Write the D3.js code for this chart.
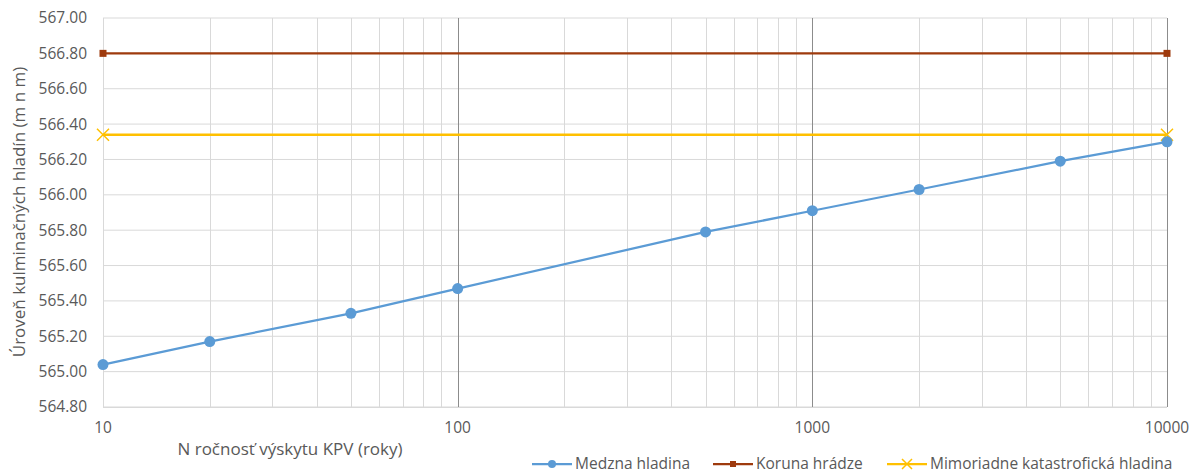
<!DOCTYPE html>
<html>
<head>
<meta charset="utf-8">
<script src="https://cdn.jsdelivr.net/npm/d3@7"></script>
<style>
  body { margin: 0; background: #fff; }
  text { font-family: "Open Sans", "Noto Sans", sans-serif; fill: #595959; }
</style>
</head>
<body>
<div id="chart"></div>
<script>
// return periods (years) and water levels (m n m)
const years = [10, 20, 50, 100, 500, 1000, 2000, 5000, 10000];
const medzna = [565.04, 565.17, 565.33, 565.47, 565.79, 565.91, 566.03, 566.19, 566.30];
const korunaYears = [10, 10000];
const koruna = [566.80, 566.80];
const mimoYears = [10, 10000];
const mimo = [566.34, 566.34];
const yTicks = [564.8, 565.0, 565.2, 565.4, 565.6, 565.8, 566.0, 566.2, 566.4, 566.6, 566.8, 567.0];
const xTicks = [10, 100, 1000, 10000];
const seriesNames = ['Medzna hladina', 'Koruna hrádze', 'Mimoriadne katastrofická hladina'];

const width = 1197, height = 475;
const margin = { left: 103, right: 30, top: 18, bottom: 68 };

const svg = d3.select('#chart').append('svg')
  .attr('width', width)
  .attr('height', height);

const x = d3.scaleLog()
  .domain([10, 10000])
  .range([margin.left, width - margin.right]);

const y = d3.scaleLinear()
  .domain([564.8, 567.0])
  .range([height - margin.bottom, margin.top]);

// horizontal grid
svg.append('g').attr('class', 'hgrid')
  .selectAll('line')
  .data(yTicks)
  .enter().append('line')
  .attr('x1', x(10)).attr('x2', x(10000))
  .attr('y1', d => y(d)).attr('y2', d => y(d))
  .attr('stroke', '#d9d9d9')
  .attr('stroke-width', 1);

// minor vertical grid (2..9 per decade)
let minor = [];
[10, 100, 1000].forEach(function(dec) {
  for (let k = 2; k <= 9; k++) minor.push(dec * k);
});
svg.append('g').attr('class', 'vminor')
  .selectAll('line')
  .data(minor)
  .enter().append('line')
  .attr('x1', d => Math.round(x(d)) + 0.5).attr('x2', d => Math.round(x(d)) + 0.5)
  .attr('y1', y(567)).attr('y2', y(564.8))
  .attr('stroke', '#d9d9d9');

// major vertical grid
svg.append('g').attr('class', 'vmajor')
  .selectAll('line')
  .data([100, 1000, 10000])
  .enter().append('line')
  .attr('x1', d => Math.round(x(d)) + 0.5).attr('x2', d => Math.round(x(d)) + 0.5)
  .attr('y1', y(567)).attr('y2', y(564.8))
  .attr('stroke', '#8c8c8c');

// left edge + bottom axis line
svg.append('line')
  .attr('x1', x(10) + 0.5).attr('x2', x(10) + 0.5)
  .attr('y1', y(567)).attr('y2', y(564.8))
  .attr('stroke', '#d9d9d9');
svg.append('line')
  .attr('x1', x(10)).attr('x2', x(10000))
  .attr('y1', y(564.8) + 0.5).attr('y2', y(564.8) + 0.5)
  .attr('stroke', '#d9d9d9');

// y tick labels
svg.append('g').selectAll('text')
  .data(yTicks)
  .enter().append('text')
  .attr('x', 87)
  .attr('y', d => y(d))
  .attr('dy', '0.35em')
  .attr('text-anchor', 'end')
  .style('font-size', '15.5px')
  .text(d => d.toFixed(2));

// x tick labels
svg.append('g').selectAll('text')
  .data(xTicks)
  .enter().append('text')
  .attr('x', d => x(d))
  .attr('y', 428)
  .attr('dy', '0.35em')
  .attr('text-anchor', 'middle')
  .style('font-size', '15.5px')
  .text(d => d);

// axis titles
svg.append('text')
  .attr('transform', 'translate(19,' + 212 + ') rotate(-90)')
  .attr('text-anchor', 'middle')
  .attr('dy', '0.35em')
  .style('font-size', '17px')
  .text('Úroveň kulminačných hladín (m n m)');

svg.append('text')
  .attr('x', 290)
  .attr('y', 449)
  .attr('dy', '0.35em')
  .attr('text-anchor', 'middle')
  .style('font-size', '17px')
  .text('N ročnosť výskytu KPV (roky)');

const line = d3.line()
  .x(d => x(d[0]))
  .y(d => y(d[1]));

const colors = ['#5b9bd5', '#9e3a0d', '#ffc000'];

// Koruna hrádze
svg.append('path')
  .datum(d3.zip(korunaYears, koruna))
  .attr('d', line)
  .attr('fill', 'none')
  .attr('stroke', colors[1])
  .attr('stroke-width', 2.25);
svg.append('g').selectAll('rect')
  .data(d3.zip(korunaYears, koruna))
  .enter().append('rect')
  .attr('x', d => x(d[0]) - 3.5)
  .attr('y', d => y(d[1]) - 3.5)
  .attr('width', 7).attr('height', 7)
  .attr('fill', colors[1]);

// Mimoriadne katastrofická hladina
svg.append('path')
  .datum(d3.zip(mimoYears, mimo))
  .attr('d', line)
  .attr('fill', 'none')
  .attr('stroke', colors[2])
  .attr('stroke-width', 2.5);
svg.append('g').selectAll('path')
  .data(d3.zip(mimoYears, mimo))
  .enter().append('path')
  .attr('d', d => {
    const cx = x(d[0]), cy = y(d[1]), r = 6;
    return 'M' + (cx - r) + ',' + (cy - r) + 'L' + (cx + r) + ',' + (cy + r) +
      'M' + (cx - r) + ',' + (cy + r) + 'L' + (cx + r) + ',' + (cy - r);
  })
  .attr('stroke', colors[2])
  .attr('stroke-width', 1.5);

// Medzna hladina
svg.append('path')
  .datum(d3.zip(years, medzna))
  .attr('d', line)
  .attr('fill', 'none')
  .attr('stroke', colors[0])
  .attr('stroke-width', 2.25);
svg.append('g').selectAll('circle')
  .data(d3.zip(years, medzna))
  .enter().append('circle')
  .attr('cx', d => x(d[0]))
  .attr('cy', d => y(d[1]))
  .attr('r', 5.5)
  .attr('fill', colors[0]);

// legend
const legendX = [532, 713, 887];
const lg = svg.append('g').attr('class', 'legend');
seriesNames.forEach(function(name, i) {
  const g = lg.append('g').attr('transform', 'translate(' + legendX[i] + ',464)');
  g.append('line')
    .attr('x1', 0).attr('x2', 40)
    .attr('stroke', colors[i]).attr('stroke-width', 2.25);
  if (i === 0) {
    g.append('circle').attr('cx', 20).attr('r', 4).attr('fill', colors[i]);
  } else if (i === 1) {
    g.append('rect').attr('x', 17).attr('y', -3).attr('width', 6).attr('height', 6).attr('fill', colors[i]);
  } else {
    g.append('path').attr('d', 'M15,-5L25,5M15,5L25,-5').attr('stroke', colors[i]).attr('stroke-width', 1.5);
  }
  g.append('text')
    .attr('x', 43)
    .attr('dy', '0.35em')
    .style('font-size', '15.5px')
    .text(name);
});
</script>
</body>
</html>
